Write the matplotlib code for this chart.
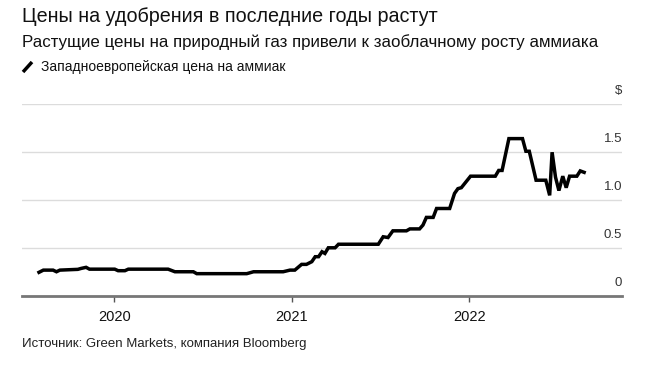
import matplotlib
matplotlib.use("Agg")
import matplotlib.pyplot as plt
import matplotlib.transforms as mtransforms
from matplotlib.lines import Line2D
import pandas as pd

# ---- data ----
dates = [
    "2019-07-30", "2019-08-08", "2019-08-28", "2019-09-04", "2019-09-11", "2019-10-18",
    "2019-10-25", "2019-11-04", "2019-11-11", "2020-01-02", "2020-01-09", "2020-01-23",
    "2020-01-30", "2020-04-21", "2020-05-05", "2020-06-12", "2020-06-19", "2020-09-30",
    "2020-10-14", "2020-12-14", "2020-12-28", "2021-01-07", "2021-01-21", "2021-01-31",
    "2021-02-11", "2021-02-18", "2021-02-25", "2021-03-04", "2021-03-10", "2021-03-17",
    "2021-03-31", "2021-04-07", "2021-06-28", "2021-07-08", "2021-07-18", "2021-07-28",
    "2021-08-25", "2021-09-01", "2021-09-21", "2021-09-28", "2021-10-05", "2021-10-19",
    "2021-10-26", "2021-11-22", "2021-12-02", "2021-12-09", "2021-12-16", "2022-01-04",
    "2022-02-24", "2022-03-03", "2022-03-10", "2022-03-24", "2022-04-21", "2022-04-28",
    "2022-05-05", "2022-05-19", "2022-06-08", "2022-06-16", "2022-06-21", "2022-06-28",
    "2022-07-05", "2022-07-13", "2022-07-20", "2022-07-27", "2022-08-11", "2022-08-18",
    "2022-08-26",
]
prices = [
    0.247, 0.270, 0.270, 0.253, 0.270, 0.278,
    0.288, 0.299, 0.280, 0.280, 0.264, 0.264,
    0.280, 0.280, 0.253, 0.253, 0.233, 0.233,
    0.253, 0.253, 0.270, 0.270, 0.330, 0.330,
    0.358, 0.410, 0.410, 0.462, 0.444, 0.503,
    0.503, 0.540, 0.540, 0.618, 0.610, 0.680,
    0.680, 0.700, 0.700, 0.740, 0.820, 0.820,
    0.913, 0.913, 1.070, 1.120, 1.130, 1.250,
    1.250, 1.310, 1.310, 1.642, 1.642, 1.510,
    1.510, 1.208, 1.208, 1.050, 1.500, 1.240,
    1.100, 1.250, 1.130, 1.250, 1.250, 1.305,
    1.290,
]
x_tick_dates = ["2020-01-01", "2021-01-01", "2022-01-01"]
x_tick_labels = ["2020", "2021", "2022"]
y_ticks = [0, 0.5, 1.0, 1.5, 2.0]
y_tick_labels = ["0", "0.5", "1.0", "1.5", "$"]

title = "Цены на удобрения в последние годы растут"
subtitle = "Растущие цены на природный газ привели к заоблачному росту аммиака"
legend_label = "Западноевропейская цена на аммиак"
source = "Источник: Green Markets, компания Bloomberg"

plt.rcParams["font.family"] = ["Liberation Sans", "DejaVu Sans"]

W, H = 671, 379
fig = plt.figure(figsize=(W / 100, H / 100), dpi=100)
fig.patch.set_facecolor("white")

ax_left, ax_right, ax_bottom, ax_top = 22, 622, 296, 104.3
ax = fig.add_axes([ax_left / W, 1 - ax_bottom / H, (ax_right - ax_left) / W, (ax_bottom - ax_top) / H])

x = pd.to_datetime(dates)
ax.plot(x, prices, color="black", lw=2.5, solid_joinstyle="miter", zorder=3)

ax.set_xlim(pd.Timestamp("2019-06-25"), pd.Timestamp("2022-11-12"))
ax.set_ylim(0, 2.0)

for s in ["top", "right", "left"]:
    ax.spines[s].set_visible(False)
ax.spines["bottom"].set_color("#777777")
ax.spines["bottom"].set_linewidth(2.0)
ax.spines["bottom"].set_zorder(4)

for v in y_ticks[1:]:
    ax.axhline(v, color="#dcdcdc", lw=1.0, zorder=1)
ax.set_yticks([])

offset = mtransforms.offset_copy(ax.get_yaxis_transform(), fig=fig, x=0, y=13, units="dots")
for v, lab in zip(y_ticks, y_tick_labels):
    ax.text(1.0, v, lab, transform=offset, ha="right", va="center",
            fontsize=9.5, color="#333333")

ax.set_xticks(pd.to_datetime(x_tick_dates))
ax.set_xticklabels(x_tick_labels)
ax.tick_params(axis="x", direction="out", length=4, width=1, color="#555555",
               pad=6, labelsize=10.5, labelcolor="#111111")

fig.text(22 / W, 1 - 16 / H, title, fontsize=14.2, color="#111111", va="center", ha="left")
fig.text(22 / W, 1 - 42.5 / H, subtitle, fontsize=12.2, color="#111111", va="center", ha="left")
fig.add_artist(Line2D([23 / W, 32 / W], [1 - 72 / H, 1 - 62 / H], color="black", lw=2.5,
                      solid_capstyle="butt"))
fig.text(41 / W, 1 - 67.5 / H, legend_label, fontsize=10, color="#111111", va="center", ha="left")
fig.text(22 / W, 1 - 344.5 / H, source, fontsize=9.5, color="#222222", va="center", ha="left")

fig.savefig("out.png", dpi=100, facecolor="white")
